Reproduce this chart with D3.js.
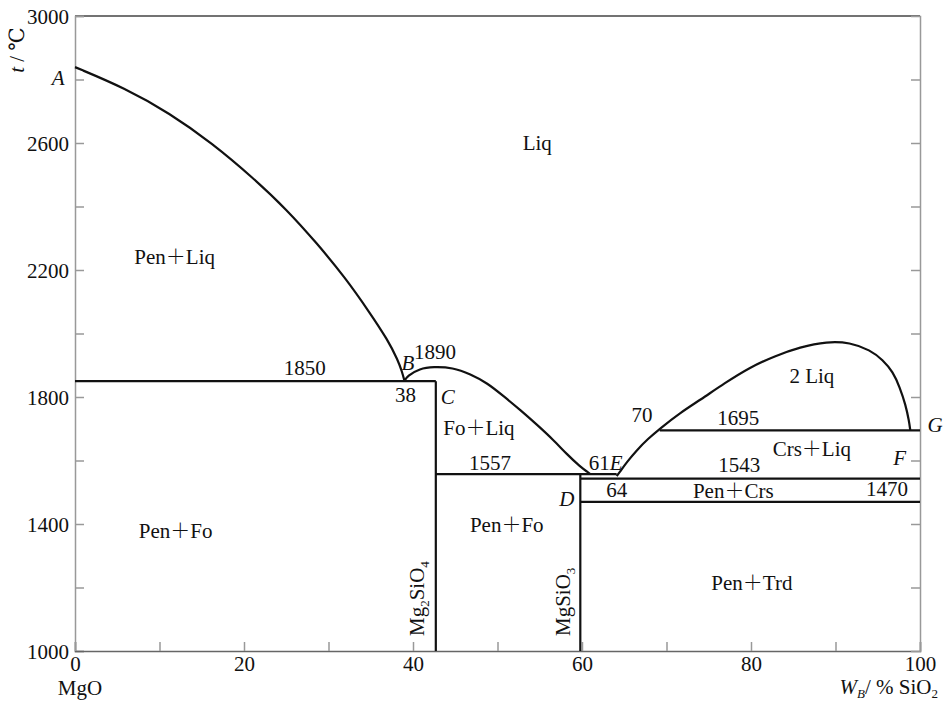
<!DOCTYPE html>
<html>
<head>
<meta charset="utf-8">
<script src="https://cdn.jsdelivr.net/npm/d3@7"></script>
<style>
  html, body { margin: 0; padding: 0; background: #fff; }
  svg { display: block; }
  text { font-family: "Liberation Serif", "DejaVu Serif", serif; fill: #111; }
</style>
</head>
<body>
<svg id="chart" width="950" height="704"></svg>
<script>
// ---- Data (composition in wt% SiO2, temperature in °C) ----
const xTicks = [0, 20, 40, 60, 80, 100];
const xMinorTicks = [10, 30, 50, 70, 90];
const yTicks = [1000, 1400, 1800, 2200, 2600, 3000];
const yMinorTicks = [1200, 1600, 2000, 2400, 2800];
const yRightTicks = [1200, 1400, 1600, 1800, 2000, 2200, 2400, 2600, 2800];

// Periclase liquidus A -> B
const liquidusAB = [[0, 2839], [5.9, 2773], [11.2, 2694], [16.2, 2600], [21.1, 2490], [25.1, 2389], [28.6, 2285],
  [32.0, 2175], [34.9, 2065], [37.0, 1980], [38.2, 1917], [38.7, 1880], [39, 1850]];
// Forsterite liquidus B -> max -> 61
const liquidusFo = [[39, 1850], [39.3, 1866], [40.8, 1890], [42.4, 1895], [44.7, 1893], [46.8, 1872], [48.8, 1844],
  [50.7, 1803], [52.7, 1759], [54.7, 1712], [56.6, 1665], [58.2, 1620], [59.8, 1580], [60.7, 1563], [61, 1557]];
// Cristobalite liquidus E -> 70 continuing into the two-liquid dome
const liquidusCrs = [[64.1, 1551], [64.4, 1561], [65.3, 1595], [66.5, 1633], [67.8, 1668], [69.2, 1700], [71.6, 1750], [74.0, 1791],
  [76.9, 1844], [79.9, 1894], [82.8, 1929], [85.8, 1957], [89.0, 1975], [91.7, 1972], [94.1, 1948], [95.6, 1917],
  [96.8, 1879], [97.6, 1831], [98.3, 1775], [98.7, 1725], [98.85, 1695]];

// Isotherms: [xStart, xEnd, T]
const isotherms = [[0, 42.7, 1850], [42.7, 64.1, 1557], [59.8, 100, 1543], [59.8, 100, 1470], [69.2, 100, 1695]];
// Compound verticals: [x, Ttop]
const compounds = [[42.7, 1850], [59.8, 1557]];

// Labels: [text, x, T]
const regionLabels = [
  ["Liq", 54.7, 2600], ["Pen+Liq", 11.8, 2241], ["Fo+Liq", 47.8, 1702],
  ["Pen+Fo", 11.9, 1378], ["Pen+Fo", 51.1, 1397], ["Pen+Trd", 80.1, 1214],
  ["Pen+Crs", 77.9, 1504], ["Crs+Liq", 87.2, 1636], ["2 Liq", 87.2, 1866]
];
const numberLabels = [
  ["1850", 27.2, 1894], ["1890", 42.6, 1942], ["38", 39.1, 1806], ["1557", 49.1, 1592],
  ["64", 64.1, 1507], ["1543", 78.6, 1587], ["1470", 96.1, 1510],
  ["1695", 78.5, 1734], ["70", 67.1, 1743]
];
const letterLabels = [
  ["A", -2, 2805], ["B", 39.4, 1907], ["C", 44.1, 1800], ["D", 58.2, 1479],
  ["F", 97.6, 1608], ["G", 101.8, 1712]
];

// ---- Drawing ----
const svg = d3.select("#chart");
const x = d3.scaleLinear().domain([0, 100]).range([75, 920]);
const y = d3.scaleLinear().domain([1000, 3000]).range([651, 16]);
const axisColor = "#999";
const fs = 21;

svg.append("line").attr("x1", x(0)).attr("x2", x(100)).attr("y1", y(3000)).attr("y2", y(3000))
  .attr("stroke", "#444").attr("stroke-width", 1.5);

const left = d3.axisLeft(y).tickValues(yTicks.concat(yMinorTicks)).tickSize(-9).tickFormat(d => yTicks.includes(d) ? d : "");
const gL = svg.append("g").attr("transform", `translate(${x(0)},0)`).call(left);
const bottom = d3.axisBottom(x).tickValues(xTicks.concat(xMinorTicks)).tickSize(-9).tickFormat(d => xTicks.includes(d) ? d : "");
const gB = svg.append("g").attr("transform", `translate(0,${y(1000)})`).call(bottom);
const right = d3.axisRight(y).tickValues(yRightTicks).tickSize(-9).tickFormat("");
const gR = svg.append("g").attr("transform", `translate(${x(100)},0)`).call(right);

[gL, gB, gR].forEach(g => {
  g.select(".domain").attr("stroke", axisColor).attr("stroke-width", 1.5);
  g.selectAll(".tick line").attr("stroke", axisColor).attr("stroke-width", 1.5);
  g.selectAll(".tick text").attr("font-family", "Liberation Serif, serif").attr("font-size", fs).attr("fill", "#111");
});
gB.select(".domain").attr("stroke", "#666");
gL.selectAll(".tick text").attr("x", -6).attr("dy", "0.35em");
gB.selectAll(".tick text").attr("y", 5).attr("dy", "0.71em");

// Curves (smoothing B-spline through the read points)
const line = d3.line().x(d => x(d[0])).y(d => y(d[1])).curve(d3.curveBasis);
[liquidusAB, liquidusFo, liquidusCrs].forEach(pts => {
  svg.append("path").attr("d", line(pts)).attr("fill", "none").attr("stroke", "#111").attr("stroke-width", 2.2);
});

svg.selectAll(".iso").data(isotherms).enter().append("line")
  .attr("x1", d => x(d[0])).attr("x2", d => x(d[1]))
  .attr("y1", d => y(d[2])).attr("y2", d => y(d[2]))
  .attr("stroke", "#111").attr("stroke-width", 2.2);

svg.selectAll(".cmp").data(compounds).enter().append("line")
  .attr("x1", d => x(d[0])).attr("x2", d => x(d[0]))
  .attr("y1", d => y(d[1])).attr("y2", y(1000))
  .attr("stroke", "#111").attr("stroke-width", 2.2);

// Region labels with a wide thin plus sign
svg.selectAll(".rl").data(regionLabels).enter().append("text")
  .attr("x", d => x(d[1])).attr("y", d => y(d[2])).attr("dy", "0.35em")
  .attr("text-anchor", "middle").attr("font-size", fs)
  .each(function(d) {
    const parts = d[0].split("+");
    const t = d3.select(this);
    parts.forEach((p, i) => {
      if (i > 0) t.append("tspan").attr("font-family", "Noto Sans CJK SC").attr("font-weight", 300).attr("font-size", fs - 1).text("＋");
      t.append("tspan").text(p);
    });
  });

svg.selectAll(".nl").data(numberLabels).enter().append("text")
  .attr("x", d => x(d[1])).attr("y", d => y(d[2])).attr("dy", "0.35em")
  .attr("text-anchor", "middle").attr("font-size", fs).text(d => d[0]);

svg.selectAll(".ll").data(letterLabels).enter().append("text")
  .attr("x", d => x(d[1])).attr("y", d => y(d[2])).attr("dy", "0.35em")
  .attr("text-anchor", "middle").attr("font-size", fs).attr("font-style", "italic").text(d => d[0]);

const t61 = svg.append("text").attr("x", x(62.8)).attr("y", y(1592)).attr("dy", "0.35em")
  .attr("text-anchor", "middle").attr("font-size", fs);
t61.append("tspan").text("61");
t61.append("tspan").attr("font-style", "italic").text("E");

function rotatedFormula(parts, xv, yBase) {
  const t = svg.append("text").attr("transform", `translate(${xv},${yBase}) rotate(-90)`)
    .attr("text-anchor", "start").attr("font-size", fs);
  parts.forEach(p => {
    if (p.sub) t.append("tspan").attr("font-size", 13).attr("dy", 5).text(p.t);
    else t.append("tspan").attr("dy", p.after ? -5 : 0).text(p.t);
  });
}
rotatedFormula([{t: "Mg"}, {t: "2", sub: true}, {t: "SiO", after: true}, {t: "4", sub: true}], x(42.7) - 12, y(1000) - 15);
rotatedFormula([{t: "MgSiO"}, {t: "3", sub: true}], x(59.8) - 10, y(1000) - 15);

const yt = svg.append("text").attr("transform", `translate(24,50) rotate(-90)`)
  .attr("text-anchor", "middle").attr("font-size", fs);
yt.append("tspan").attr("font-style", "italic").text("t");
yt.append("tspan").text(" / ℃");

svg.append("text").attr("x", x(0) + 5).attr("y", 695).attr("text-anchor", "middle").attr("font-size", fs).text("MgO");

const xt = svg.append("text").attr("x", 938).attr("y", 694).attr("text-anchor", "end").attr("font-size", fs);
xt.append("tspan").attr("font-style", "italic").text("W");
xt.append("tspan").attr("font-style", "italic").attr("font-size", 13).attr("dy", 4).text("B");
xt.append("tspan").attr("dy", -4).text("/ % SiO");
xt.append("tspan").attr("font-size", 13).attr("dy", 4).text("2");
</script>
</body>
</html>
